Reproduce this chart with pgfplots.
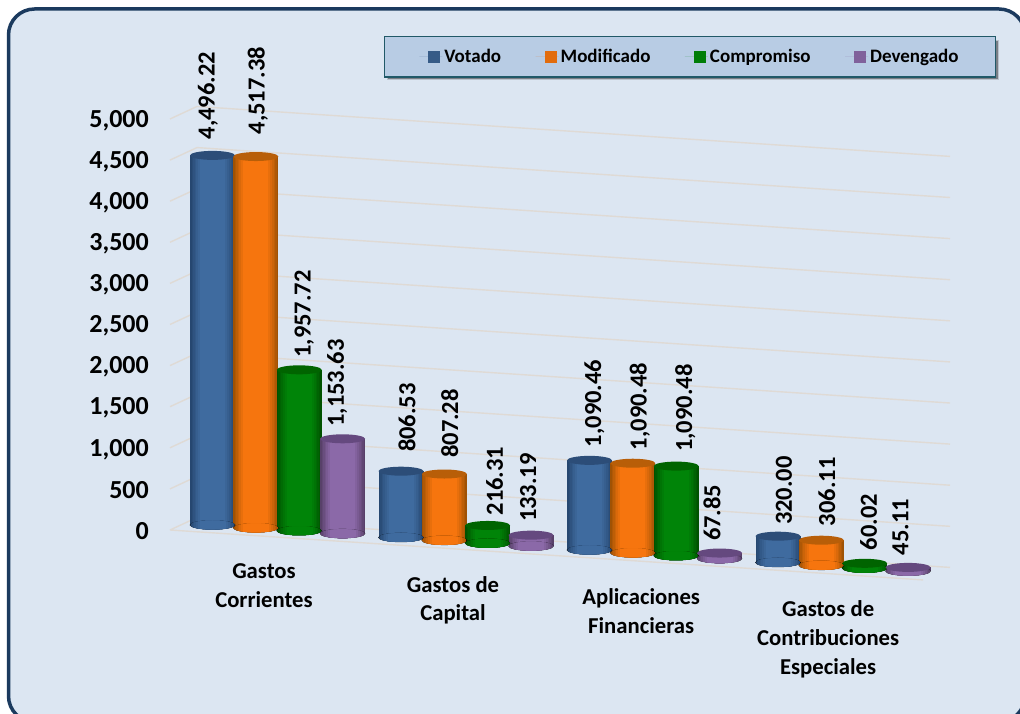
\documentclass[border=0pt]{standalone}
\usepackage{pgfplots}
\usepackage{pgfplotstable}
\pgfplotsset{compat=1.18}
\usepackage{fontspec}
\setmainfont{Carlito}
\definecolor{panel}{HTML}{DCE6F2}
\definecolor{frame}{HTML}{1B3A5E}
\definecolor{wallc}{HTML}{DFDAD5}
\definecolor{legbg}{HTML}{B8CCE4}
\definecolor{legln}{HTML}{215968}
\definecolor{bE}{HTML}{264770}\definecolor{bM}{HTML}{3F6B9F}\definecolor{bC}{HTML}{2C4D78}
\definecolor{oE}{HTML}{A05204}\definecolor{oM}{HTML}{F6750E}\definecolor{oC}{HTML}{B85E08}
\definecolor{gE}{HTML}{005200}\definecolor{gM}{HTML}{008408}\definecolor{gC}{HTML}{006400}
\definecolor{pE}{HTML}{584069}\definecolor{pM}{HTML}{8B69A8}\definecolor{pC}{HTML}{65497F}
\pgfplotstableread{
x y b dx gap
0.000 4496.22 0 -4.5 16
1.000 806.53 0 6 19
2.000 1090.46 0 5 13
3.000 320.00 0 6 11
}\tV
\pgfplotstableread{
x y b dx gap
0.230 4517.38 0 2 22
1.230 807.28 0 5.5 16
2.230 1090.48 0 7 13
3.230 306.11 0 5.5 14
}\tM
\pgfplotstableread{
x y b dx gap
0.460 1957.72 0 5 12
1.460 216.31 0 7 10
2.460 1090.48 0 9 14
3.460 60.02 0 4 13
}\tC
\pgfplotstableread{
x y b dx gap
0.690 1153.63 0 -5.5 12
1.690 133.19 0 -3 13
2.690 67.85 0 -7.5 12
3.690 45.11 0 -7.5 12
}\tD
\pgfplotstableread{
x y
0 0
0.1432 174
4.138 174
nan nan
3.995 0
0 0
nan nan
0 500
0.1432 674
4.138 674
nan nan
0 1000
0.1432 1174
4.138 1174
nan nan
0 1500
0.1432 1674
4.138 1674
nan nan
0 2000
0.1432 2174
4.138 2174
nan nan
0 2500
0.1432 2674
4.138 2674
nan nan
0 3000
0.1432 3174
4.138 3174
nan nan
0 3500
0.1432 3674
4.138 3674
nan nan
0 4000
0.1432 4174
4.138 4174
nan nan
0 4500
0.1432 4674
4.138 4674
nan nan
0 5000
0.1432 5174
4.138 5174
}\tWall
\pgfdeclareplotmark{capE}{%
  \pgfpathellipse{\pgfpointorigin}{\pgfqpoint{\pgfplotmarksize}{0pt}}{\pgfqpoint{0pt}{4.5pt}}%
  \pgfusepathqfill}
\newcommand\defbase[3]{%
  \pgfdeclareplotmark{base#1}{%
    \begin{scope}
    \clip (0pt,0pt) ellipse (22.5pt and 4.5pt);
    \fill[#2] (-23pt,-5pt) rectangle (23pt,5pt);
    \fill[#3!17!#2] (-21pt,-5pt) rectangle (21pt,5pt);
    \fill[#3!34!#2] (-19.5pt,-5pt) rectangle (19.5pt,5pt);
    \fill[#3!50!#2] (-18pt,-5pt) rectangle (18pt,5pt);
    \fill[#3!67!#2] (-16.5pt,-5pt) rectangle (16.5pt,5pt);
    \fill[#3!84!#2] (-14.5pt,-5pt) rectangle (14.5pt,5pt);
    \fill[#3] (-12.5pt,-5pt) rectangle (12.5pt,5pt);
    \end{scope}}%
}
\defbase{V}{bE}{bM}
\defbase{M}{oE}{oM}
\defbase{C}{gE}{gM}
\defbase{D}{pE}{pM}
\newcommand\layer[3]{%
  \addplot[forget plot,draw=none,no markers,
    error bars/.cd,y dir=minus,y explicit,error mark=none,
    error bar style={line width=#2,draw=#3,line cap=butt}]
    table[x=x,y=y,y error=y] {#1};
}
\newcommand\cyl[5]{%
  \addplot[forget plot,only marks,mark=base#5] table[x=x,y=b] {#1};
  \layer{#1}{45pt}{#2}
  \layer{#1}{42pt}{#3!17!#2}
  \layer{#1}{39pt}{#3!34!#2}
  \layer{#1}{36pt}{#3!50!#2}
  \layer{#1}{33pt}{#3!67!#2}
  \layer{#1}{29pt}{#3!84!#2}
  \layer{#1}{25pt}{#3}
  \addplot[forget plot,only marks,mark=capE,mark size=22.5pt,color=#4] table[x=x,y=y] {#1};
}
\newcommand\lab[1]{%
  \addplot[forget plot,only marks,mark=none,
    visualization depends on={\thisrow{dx}\as\dx},
    visualization depends on={\thisrow{gap}\as\gap},
    nodes near coords,point meta=y,
    nodes near coords style={font=\fontsize{24.5}{24.5}\selectfont\bfseries,text=black,rotate=90,anchor=west,inner sep=0pt,
      xshift=\gap pt,yshift=-\dx pt}] table[x=x,y=y] {#1};
}
\begin{document}
\begin{tikzpicture}[x=1pt,y=1pt]
\path[use as bounding box] (0,0) rectangle (1020,714);
\fill[white] (0,0) rectangle (1020,714);
\begin{scope}
\clip (0,0) rectangle (1020,714);
\draw[frame,line width=3.5pt,fill=panel,rounded corners=26pt] (8.5,-8) rectangle (1025,705);
\end{scope}
% soft shadow behind the legend box
\fill[black,opacity=.15] (387,634) rectangle (999,674);
\fill[black,opacity=.35] (388,635) rectangle (998,673);
% walls, floor and value scale
\begin{axis}[at={(170pt,184pt)},anchor=origin,
  x={(188.5pt,-12.5pt)},y={(0pt,0.0822pt)},
  xmin=0,xmax=4,ymin=0,ymax=5000,clip=false,
  axis line style={draw=none},tick style={draw=none},major tick length=0pt,
  xtick=\empty,ytick={0,500,...,5000},
  yticklabel style={font=\fontsize{26}{26}\selectfont\bfseries,anchor=east,inner sep=0pt,xshift=-21pt,yshift=-1.5pt},
  /pgf/number format/.cd,assume math mode=true,fixed,1000 sep={,},
  /pgfplots/.cd,unbounded coords=jump]
\addplot[wallc,line width=1.4pt,no markers] table[x=x,y=y] {\tWall};
\end{axis}
% bars
\begin{axis}[at={(212.5pt,189pt)},anchor=origin,
  x={(188.5pt,-12.5pt)},y={(0pt,0.0822pt)},
  xmin=0,xmax=4,ymin=0,ymax=5000,clip=false,
  axis line style={draw=none},tick style={draw=none},major tick length=0pt,
  ytick=\empty,
  xtick={0.273,1.276,2.274,3.266},
  xticklabels={{Gastos\\Corrientes},{Gastos de\\Capital},{Aplicaciones\\Financieras},{Gastos de\\Contribuciones\\Especiales}},
  xticklabel style={font=\fontsize{22.7}{28.8}\selectfont\bfseries,align=center,anchor=north,inner sep=0pt,yshift=-35pt},
  /pgf/number format/.cd,assume math mode=true,fixed,fixed zerofill,precision=2,1000 sep={,},
  /pgfplots/.cd,
  legend style={at={(axis cs:2.533,6079)},anchor=center,fill=legbg,draw=legln,line width=1.3pt,
    font=\fontsize{19}{19}\selectfont\bfseries,
    inner xsep=35pt,inner ysep=10.7pt,
    legend columns=4,/tikz/every even column/.append style={column sep=32.5pt}},
  legend cell align=left,
  legend image code/.code={\path (-9pt,0pt)--(14pt,0pt);\fill[#1] (0pt,-6pt) rectangle (12pt,6pt);}]
\addlegendimage{fill=bM!85!black,draw=none}\addlegendentry{Votado}
\addlegendimage{fill=oM!92!black,draw=none}\addlegendentry{Modificado}
\addlegendimage{fill=gM!95!black,draw=none}\addlegendentry{Compromiso}
\addlegendimage{fill=pM!92!black,draw=none}\addlegendentry{Devengado}
\cyl{\tV}{bE}{bM}{bC}{V}
\cyl{\tM}{oE}{oM}{oC}{M}
\cyl{\tC}{gE}{gM}{gC}{C}
\cyl{\tD}{pE}{pM}{pC}{D}
\lab{\tV}
\lab{\tM}
\lab{\tC}
\lab{\tD}
\end{axis}
\end{tikzpicture}
\end{document}
